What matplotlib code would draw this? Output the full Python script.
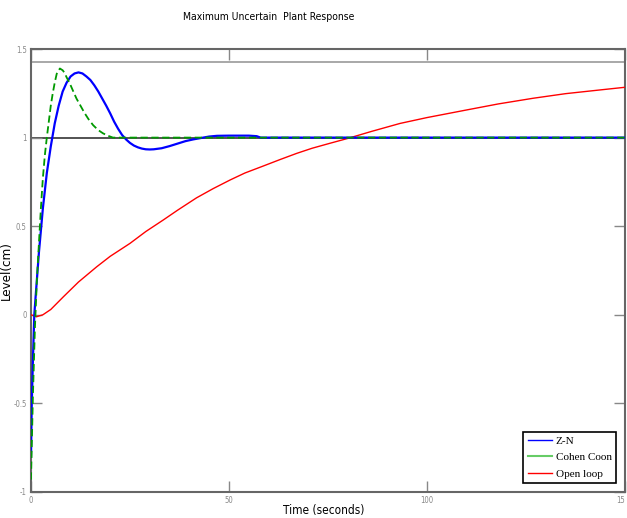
import matplotlib
matplotlib.use('Agg')
import matplotlib.pyplot as plt
from matplotlib.lines import Line2D

# Z-N response
zn_t = [0, 0.2, 0.5, 0.84, 1, 2, 3, 4, 5, 6, 7, 8, 9, 10, 11, 12, 13, 14, 15, 16, 17, 18, 19, 20,
        21, 22, 23, 24, 25, 26, 27, 28, 29, 30, 31, 33, 35, 37, 39, 41, 43, 45, 47, 50, 55, 57, 58, 150]
zn_y = [-0.8, -0.5, -0.25, 0.0, 0.05, 0.35, 0.6, 0.8, 0.95, 1.08, 1.18, 1.26, 1.31, 1.345, 1.362,
        1.368, 1.362, 1.345, 1.325, 1.295, 1.26, 1.22, 1.18, 1.137, 1.09, 1.05, 1.015, 0.99, 0.97,
        0.955, 0.945, 0.938, 0.934, 0.933, 0.934, 0.94, 0.952, 0.966, 0.98, 0.99, 0.998, 1.006,
        1.01, 1.011, 1.011, 1.008, 1.0, 1.0]

# Cohen Coon response
cc_t = [0, 0.5, 1, 1.5, 2, 2.5, 3, 3.5, 4, 4.5, 5, 5.5, 6, 6.5, 7.3, 8, 8.5, 9, 9.8, 10.5, 11.5,
        12.4, 13.5, 14.5, 15.7, 17, 18.2, 19.5, 20.7, 150]
cc_y = [-0.93, -0.45, -0.07, 0.2, 0.4, 0.6, 0.77, 0.9, 1.0, 1.09, 1.18, 1.25, 1.31, 1.36, 1.39,
        1.38, 1.365, 1.34, 1.306, 1.27, 1.22, 1.184, 1.14, 1.105, 1.07, 1.042, 1.024, 1.01, 1.0, 1.0]

# open loop response
ol_t = [0, 0.7, 1.4, 3, 5, 8.2, 12, 16.6, 20, 25, 29, 33.4, 37, 41.8, 46, 50.3, 54, 58.7, 63, 67.1,
        71, 75.5, 80.1, 86, 93.2, 100, 110, 118, 126.8, 135, 143.7, 150]
ol_y = [0, -0.005, -0.011, 0.0, 0.03, 0.102, 0.185, 0.271, 0.33, 0.403, 0.47, 0.535, 0.59, 0.66,
        0.712, 0.761, 0.8, 0.84, 0.877, 0.911, 0.94, 0.968, 0.996, 1.035, 1.08, 1.113, 1.156, 1.19,
        1.222, 1.248, 1.269, 1.284]

setpoint = 1.0
upper_ref = 1.425

x_ticks = [0, 50, 100, 150]
x_tick_labels = ['0', '50', '100', '15']
y_ticks = [-1, -0.5, 0, 0.5, 1, 1.5]
y_tick_labels = ['-1', '-0.5', '0', '0.5', '1', '1.5']

narrow = {'family': 'DejaVu Sans', 'stretch': 'condensed'}
serif = ['Liberation Serif', 'DejaVu Serif']

fig = plt.figure(figsize=(6.27, 5.18), dpi=100)
ax = fig.add_axes([0.0494, 0.0502, 0.9474, 0.8552])

ax.axhline(upper_ref, color='#999999', linewidth=1.2, zorder=1)
ax.axhline(setpoint, color='#444444', linewidth=1.3, zorder=1)
ax.plot(ol_t, ol_y, color='#ff0000', linewidth=1.0, zorder=3)
ax.plot(zn_t, zn_y, color='#0000ff', linewidth=1.6, zorder=4)
ax.plot(cc_t, cc_y, color='#009900', linewidth=1.3, linestyle=(0, (4, 2)), zorder=5)

ax.set_xlim(0, 150)
ax.set_ylim(-1, 1.5)
ax.set_xticks(x_ticks)
ax.set_xticklabels(x_tick_labels, fontsize=5.5, color='#888888', **narrow)
ax.get_xticklabels()[-1].set_horizontalalignment('right')
ax.set_yticks(y_ticks)
ax.set_yticklabels(y_tick_labels, fontsize=5.5, color='#888888', **narrow)
ax.tick_params(direction='in', length=8, width=1, color='#888888', top=True, right=True, pad=3)
for s in ax.spines.values():
    s.set_color('#666666')
    s.set_linewidth(1.5)

ax.set_xlabel('Time (seconds)', fontsize=8.5, **narrow)
ax.xaxis.set_label_coords(0.492, -0.028)
ax.set_ylabel('Level(cm)', fontsize=9.5, **narrow)
ax.yaxis.set_label_coords(-0.03, 0.5)
fig.text(0.428, 0.968, 'Maximum Uncertain  Plant Response', fontsize=7.5,
         ha='center', va='center', **narrow)

handles = [Line2D([], [], color='#0000ff', linewidth=1),
           Line2D([], [], color='#66cc66', linewidth=1.5),
           Line2D([], [], color='#ff0000', linewidth=1)]
leg = ax.legend(handles, ['Z-N', 'Cohen Coon', 'Open loop'], loc='lower right',
                prop={'family': serif, 'size': 8}, fancybox=False, framealpha=1,
                edgecolor='black', handlelength=2.2, handletextpad=0.3,
                borderaxespad=0.8, labelspacing=0.6)
leg.get_frame().set_linewidth(1.2)

fig.savefig('out.png', dpi=100)
